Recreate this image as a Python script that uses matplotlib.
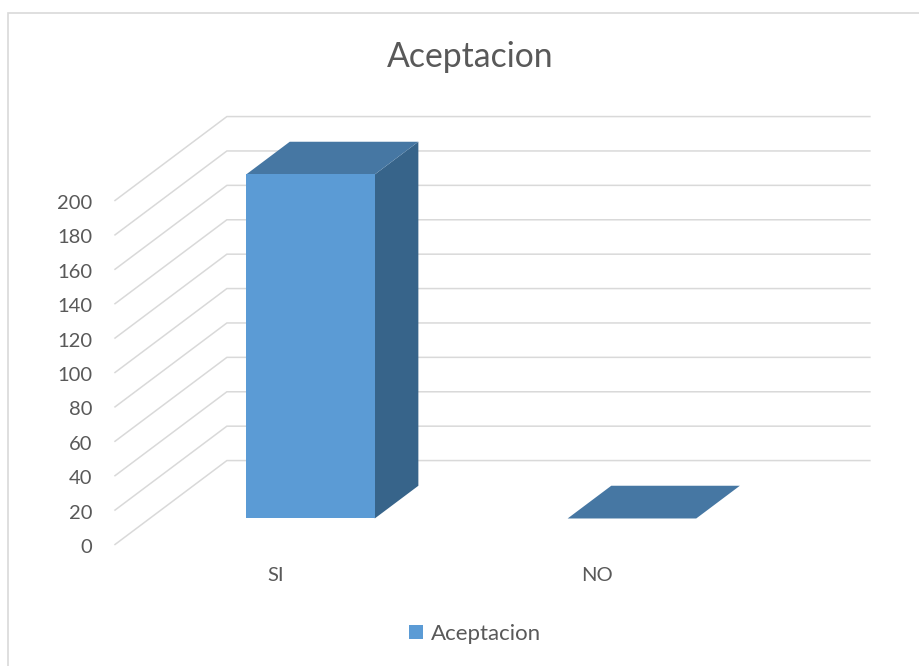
"""Grafico de columnas 3D estilo Excel: Aceptacion (SI / NO)."""

import matplotlib
matplotlib.use("Agg")
import matplotlib.pyplot as plt
from matplotlib.patches import Patch, Polygon, Rectangle
from matplotlib.transforms import ScaledTranslation

# ─── Datos ─────────────────────────────────────────────────────────────
CATEGORIAS = ["SI", "NO"]
VALORES = [200, 0]
SERIE = "Aceptacion"
TITULO = "Aceptacion"
TICKS_Y = list(range(0, 201, 20))

# ─── Estilo ────────────────────────────────────────────────────────────
COLOR_FRENTE = "#5B9BD5"
COLOR_TAPA = "#4677A3"
COLOR_LADO = "#37648A"
COLOR_GRID = "#D9D9D9"
COLOR_TEXTO = "#595959"
FUENTE = ["Lato", "DejaVu Sans"]

# profundidad oblicua (en unidades de datos) y posicion de la barra
PROF_DX = 0.348
PROF_DY = 48.8
PROF_INI, PROF_FIN = 0.31, 0.70
ANCHO_BARRA = 0.40

plt.rcParams["font.family"] = FUENTE

fig = plt.figure(figsize=(9.2, 6.66), dpi=100)
ax = fig.add_axes([115 / 920, 1 - 544.5 / 666, 643 / 920, 344 / 666])
ax.set_xlim(0, len(CATEGORIAS))
ax.set_ylim(0, max(TICKS_Y))
ax.axis("off")

# pequeno ajuste vertical de las etiquetas del eje
bajar = ax.transData + ScaledTranslation(0, -3 / 100, fig.dpi_scale_trans)

# ─── Cuadricula (diagonal + pared del fondo) ──────────────────────────
for v in TICKS_Y:
    ax.plot([0, PROF_DX, len(CATEGORIAS) + PROF_DX], [v, v + PROF_DY, v + PROF_DY],
            color=COLOR_GRID, lw=1.1, clip_on=False, zorder=1, solid_joinstyle="miter")
    ax.text(-0.07, v, str(v), ha="right", va="center", fontsize=14.5,
            color=COLOR_TEXTO, clip_on=False, transform=bajar)

# ─── Barras 3D ───────────────────────────────────────────────────────
for i, (cat, val) in enumerate(zip(CATEGORIAS, VALORES)):
    x0 = i + 0.5 - ANCHO_BARRA / 2 + PROF_INI * PROF_DX
    x1 = x0 + ANCHO_BARRA
    y0 = PROF_INI * PROF_DY
    y1 = y0 + val
    ddx = (PROF_FIN - PROF_INI) * PROF_DX
    ddy = (PROF_FIN - PROF_INI) * PROF_DY
    # lado derecho
    ax.add_patch(Polygon([(x1, y0), (x1, y1), (x1 + ddx, y1 + ddy), (x1 + ddx, y0 + ddy)],
                         closed=True, facecolor=COLOR_LADO, edgecolor="none",
                         clip_on=False, zorder=3))
    # tapa
    ax.add_patch(Polygon([(x0, y1), (x1, y1), (x1 + ddx, y1 + ddy), (x0 + ddx, y1 + ddy)],
                         closed=True, facecolor=COLOR_TAPA, edgecolor="none",
                         clip_on=False, zorder=3))
    # frente
    if val > 0:
        ax.add_patch(Rectangle((x0, y0), ANCHO_BARRA, val, facecolor=COLOR_FRENTE,
                               edgecolor="none", clip_on=False, zorder=4))
    # etiqueta de categoria
    ax.text(i + 0.5, -18, cat, ha="center", va="center", fontsize=14.5,
            color=COLOR_TEXTO, clip_on=False)

# ─── Titulo, leyenda y borde ──────────────────────────────────────────
fig.text(470 / 920, 1 - 67 / 666, TITULO, ha="center", va="baseline",
         fontsize=24.3, color=COLOR_TEXTO)

fig.legend(handles=[Patch(facecolor=COLOR_FRENTE, edgecolor="none", label=SERIE)],
           loc="center", bbox_to_anchor=(475 / 920, 1 - 634 / 666), frameon=False,
           fontsize=16, handlelength=0.6, handleheight=0.6, handletextpad=0.35,
           labelcolor=COLOR_TEXTO)

fig.patches.append(Rectangle((8 / 920, -0.05), 1.2, 1.05 - 13 / 666,
                             transform=fig.transFigure, facecolor="none",
                             edgecolor=COLOR_GRID, lw=1.2, zorder=0))

fig.savefig("out.png", dpi=100, facecolor="white")
